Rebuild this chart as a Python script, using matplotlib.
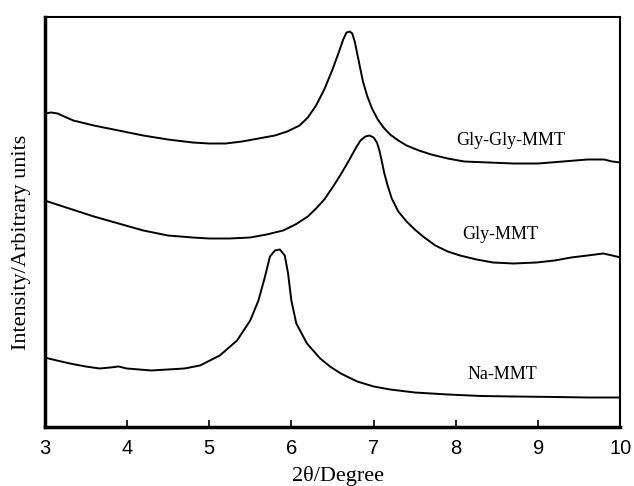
import matplotlib
matplotlib.use("Agg")
import matplotlib.pyplot as plt

# 2theta (degree) and intensity (arbitrary units, curves already offset)
glygly_x = [3.00, 3.08, 3.16, 3.24, 3.35, 3.6, 3.9, 4.2, 4.5, 4.8, 5.0, 5.2,
            5.4, 5.6, 5.8, 5.95, 6.1, 6.2, 6.3, 6.4, 6.5, 6.58, 6.63, 6.67,
            6.71, 6.74, 6.77, 6.8, 6.83, 6.87, 6.92, 6.98, 7.05, 7.12, 7.2,
            7.3, 7.4, 7.55, 7.7, 7.9, 8.1, 8.4, 8.7, 9.0, 9.3, 9.6, 9.8,
            9.9, 10.0]
glygly_y = [314, 315, 314, 311, 307, 302, 297, 292, 288, 285, 284, 284,
            286, 289, 292, 296, 302, 310, 322, 338, 358, 376, 388, 395,
            396, 394, 386, 374, 362, 346, 332, 319, 308, 300, 293,
            287, 282, 277, 273, 269, 266, 265, 264, 264, 266, 268, 268,
            266, 265]

gly_x = [3.00, 3.3, 3.6, 3.9, 4.2, 4.5, 4.8, 5.0, 5.25, 5.5, 5.7, 5.9,
         6.05, 6.2, 6.3, 6.4, 6.5, 6.6, 6.7, 6.78, 6.84, 6.9, 6.95, 7.0,
         7.04, 7.07, 7.1, 7.13, 7.17, 7.22, 7.3, 7.4, 7.5, 7.6, 7.75, 7.9,
         8.05, 8.25, 8.45, 8.7, 8.98, 9.2, 9.4, 9.6, 9.79, 9.9, 10.0]
gly_y = [227, 219, 211, 204, 197, 192, 190, 189, 189, 190, 193, 197,
         203, 211, 219, 228, 240, 253, 267, 279, 287, 291, 292, 290,
         285, 277, 266, 254, 242, 229, 216, 206, 198, 191, 182, 176,
         172, 168, 165, 164, 165, 167, 170, 172, 174, 172, 170]

na_x = [3.00, 3.15, 3.31, 3.5, 3.67, 3.8, 3.9, 4.0, 4.15, 4.3, 4.5, 4.7,
        4.89, 5.13, 5.34, 5.5, 5.6, 5.68, 5.74, 5.8, 5.86, 5.92, 5.96, 6.0,
        6.06, 6.19, 6.35, 6.47, 6.6, 6.8, 7.0, 7.2, 7.5, 7.9, 8.3, 8.7,
        9.2, 9.6, 10.0]
na_y = [70, 67, 64, 61, 59, 60, 61, 59, 58, 57, 58, 59,
        62, 72, 87, 107, 127, 151, 171, 177, 178, 172, 154, 127,
        104, 84, 69, 61, 54, 46, 41, 38, 35, 33, 31.5, 31,
        30.5, 30, 30]

labels = ["Gly-Gly-MMT", "Gly-MMT", "Na-MMT"]
label_x = [8.67, 8.54, 8.56]
label_y = [287, 193, 53]

xticks = [3, 4, 5, 6, 7, 8, 9, 10]

serif = ["Liberation Serif", "DejaVu Serif"]

fig = plt.figure(figsize=(6.34, 4.86), dpi=100)
ax = fig.add_axes([0.0702, 0.1204, 0.9085, 0.8446])

for xs, ys in [(glygly_x, glygly_y), (gly_x, gly_y), (na_x, na_y)]:
    ax.plot(xs, ys, color="black", linewidth=1.4, solid_joinstyle="round")

for name, tx, ty in zip(labels, label_x, label_y):
    ax.text(tx, ty, name, ha="center", va="center", fontsize=13, family=serif)

ax.set_xlim(3, 10)
ax.set_ylim(0, 410.5)
ax.set_xticks(xticks)
ax.set_xticklabels([str(t) for t in xticks], family="Liberation Sans", fontsize=14.5)
ax.set_yticks([])
ax.tick_params(axis="x", direction="in", length=5, width=1.2, pad=8)

ax.spines["left"].set_linewidth(2.5)
ax.spines["bottom"].set_linewidth(2.5)
ax.spines["top"].set_linewidth(1.5)
ax.spines["right"].set_linewidth(1.5)

ax.set_xlabel("2θ/Degree", family=serif, fontsize=16, va="center")
ax.xaxis.set_label_coords(0.51, -(476 - 427.5) / 410.5)
ax.set_ylabel("Intensity/Arbitrary units", family=serif, fontsize=16, va="center")
ax.yaxis.set_label_coords(-(44.5 - 21) / 576, 0.45)

fig.savefig("out.png", dpi=100)
